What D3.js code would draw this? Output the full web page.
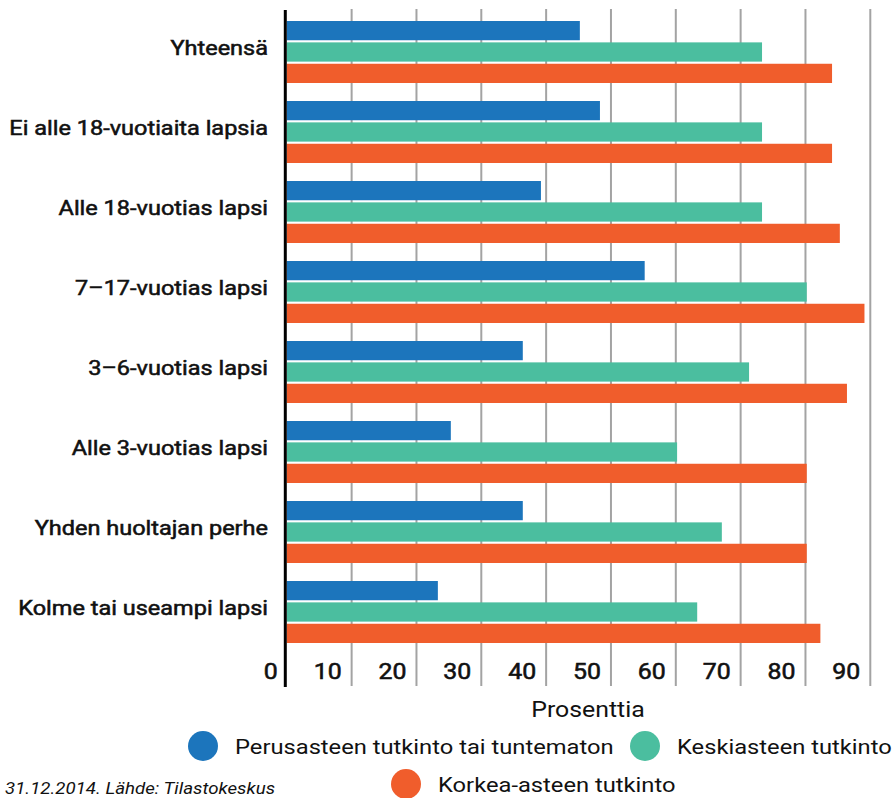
<!DOCTYPE html>
<html>
<head>
<meta charset="utf-8">
<script src="https://cdn.jsdelivr.net/npm/d3@7"></script>
<style>
  body { margin: 0; background: #fff; }
  text { font-family: Roboto, "Noto Sans", sans-serif; fill: #111; }
</style>
</head>
<body>
<svg id="chart" width="892" height="798"></svg>
<script>
const categories = ["Yhteensä", "Ei alle 18-vuotiaita lapsia", "Alle 18-vuotias lapsi", "7–17-vuotias lapsi",
  "3–6-vuotias lapsi", "Alle 3-vuotias lapsi", "Yhden huoltajan perhe", "Kolme tai useampi lapsi"]
const seriesNames = ["Perusasteen tutkinto tai tuntematon", "Keskiasteen tutkinto", "Korkea-asteen tutkinto"]
const perusaste = [45.2, 48.3, 39.2, 55.2, 36.4, 25.3, 36.4, 23.3]
const keskiaste = [73.3, 73.3, 73.3, 80.2, 71.3, 60.2, 67.1, 63.3]
const korkeaaste = [84.1, 84.1, 85.3, 89.1, 86.4, 80.2, 80.2, 82.3]
const tickValues = [0, 10, 20, 30, 40, 50, 60, 70, 80, 90]
const colors = ["#1c75bc", "#4bbe9f", "#f05d2c"]

const svg = d3.select("#chart")
const seriesValues = [perusaste, keskiaste, korkeaaste]

const x = d3.scaleLinear().domain([0, 90]).range([286.8, 870.3])
const y = d3.scaleBand().domain(categories).range([12, 652]).paddingInner(0.225).paddingOuter(0.1125)
const ySub = d3.scaleBand().domain(d3.range(3)).range([0, y.bandwidth()]).paddingInner(0.1)

// text in the original is a bit wider than Roboto, so stretch it sideways
function label(px, py, str, size, opts) {
  opts = opts || {}
  const t = svg.append("text")
    .attr("transform", `translate(${px},${py}) scale(${opts.sx || 1.12},1)`)
    .attr("text-anchor", opts.anchor || "start")
    .style("font-size", size + "px")
    .style("font-style", opts.style || "normal")
    .text(str)
  // fake a medium weight: regular + thin outline
  if (opts.medium) t.style("stroke", "#111").style("stroke-width", 0.55)
  return t
}

// gridlines
svg.append("g").selectAll("line")
  .data(tickValues.filter(d => d > 0))
  .join("line")
  .attr("x1", d => x(d)).attr("x2", d => x(d))
  .attr("y1", 9).attr("y2", 686)
  .style("stroke", "#a3a3a3")
  .style("stroke-width", 2)

// bars
categories.forEach((cat, i) => {
  const g = svg.append("g").attr("transform", `translate(0,${y(cat)})`)
  seriesValues.forEach((vals, s) => {
    g.append("rect")
      .attr("x", x(0))
      .attr("y", ySub(s))
      .attr("width", x(vals[i]) - x(0))
      .attr("height", ySub.bandwidth())
      .style("fill", colors[s])
  })
  label(268, y(cat) + y.bandwidth() / 2 + 3, cat, 21, {anchor: "end", medium: true, sx: 1.12})
})

// zero axis line
svg.append("line")
  .attr("x1", x(0) - 1.5).attr("x2", x(0) - 1.5)
  .attr("y1", 10).attr("y2", 687)
  .style("stroke", "#000")
  .style("stroke-width", 3)

// tick labels
tickValues.forEach(d => {
  label(d == 0 ? x(d) - 9 : x(d) - 10, 679, d, 22, {anchor: "end", medium: true, sx: 1.13})
})

label(588, 717, "Prosenttia", 22, {anchor: "middle", sx: 1.13})

// legend
const legendPos = [[203, 746], [645, 746], [406, 784]]
seriesNames.forEach((name, s) => {
  svg.append("circle")
    .attr("cx", legendPos[s][0])
    .attr("cy", legendPos[s][1])
    .attr("r", 15)
    .style("fill", colors[s])
  label(legendPos[s][0] + 32, legendPos[s][1] + 8, name, 21, {sx: 1.13})
})

label(5, 794, "31.12.2014. Lähde: Tilastokeskus", 17, {style: "italic", sx: 1.1})
</script>
</body>
</html>
